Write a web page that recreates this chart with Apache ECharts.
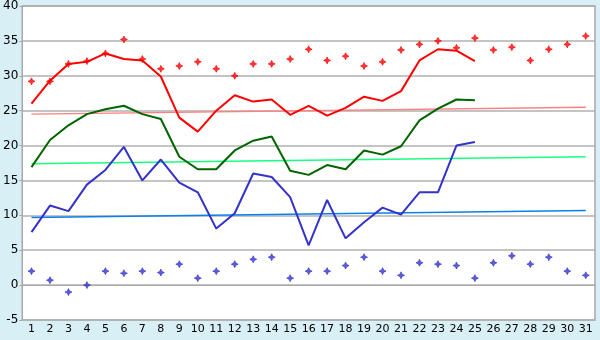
<!DOCTYPE html>
<html>
<head>
<meta charset="utf-8">
<script src="https://cdn.jsdelivr.net/npm/echarts@6/dist/echarts.min.js"></script>
<style>
  html, body { margin: 0; padding: 0; background: #d9eff6; }
  #chart { width: 600px; height: 340px; }
</style>
</head>
<body>
<div id="chart"></div>
<script>
var days = [];
for (var d = 1; d <= 31; d++) days.push(String(d));

// 红线（1-25日）
var redLine = [26, 29.3, 31.7, 32, 33.2, 32.4, 32.2, 29.9, 24, 22,
  25, 27.2, 26.3, 26.6, 24.4, 25.7, 24.3, 25.4, 27, 26.4,
  27.8, 32.2, 33.8, 33.6, 32.1];
var redDots = [29.2, 29.2, 31.7, 32.1, 33.2, 35.2, 32.4, 31, 31.4, 32,
  31, 30, 31.7, 31.7, 32.4, 33.8, 32.2, 32.8, 31.4, 32,
  33.7, 34.5, 35, 34, 35.4, 33.7, 34.1, 32.2, 33.8, 34.5, 35.7];
var greenLine = [16.9, 20.8, 22.9, 24.5, 25.2, 25.7, 24.5, 23.8, 18.4, 16.6,
  16.6, 19.3, 20.7, 21.3, 16.4, 15.8, 17.2, 16.6, 19.3, 18.7,
  19.9, 23.6, 25.3, 26.6, 26.5];
var blueLine = [7.6, 11.4, 10.6, 14.4, 16.5, 19.8, 15, 18, 14.7, 13.3,
  8.1, 10.3, 16, 15.5, 12.6, 5.7, 12.2, 6.7, 9, 11.1,
  10.1, 13.3, 13.3, 20, 20.5];
var blueDots = [2, 0.7, -1, 0, 2, 1.7, 2, 1.8, 3, 1,
  2, 3, 3.7, 4, 1, 2, 2, 2.8, 4, 2,
  1.4, 3.2, 3, 2.8, 1, 3.2, 4.2, 3, 4, 2, 1.4];
// 趋势线（首尾两点）
var redTrend = [24.5, 25.5];
var greenTrend = [17.4, 18.4];
var blueTrend = [9.7, 10.7];

var star = 'path://M5 0 L6.6 3.4 L10 5 L6.6 6.6 L5 10 L3.4 6.6 L0 5 L3.4 3.4 Z';

function trend(arr) {
  return [[days[0], arr[0]], [days[30], arr[1]]];
}

var myChart = echarts.init(document.getElementById('chart'));

var option = {
  backgroundColor: '#d9eff6',
  animation: false,
  grid: {
    left: 21, right: 5, top: 5, bottom: 20,
    show: true, backgroundColor: '#ffffff', borderColor: '#a8a8a8', borderWidth: 1.5
  },
  xAxis: {
    type: 'category',
    data: days,
    boundaryGap: true,
    axisLine: { lineStyle: { color: '#a8a8a8' } },
    axisTick: { alignWithLabel: true, length: 4, lineStyle: { color: '#000' } },
    axisLabel: { color: '#000', fontFamily: 'DejaVu Sans', fontSize: 11, margin: 4, interval: 0 },
    splitLine: { show: false }
  },
  yAxis: {
    type: 'value',
    min: -5, max: 40, interval: 5,
    axisLine: { show: true, lineStyle: { color: '#a8a8a8' } },
    axisTick: { show: true, length: 3, lineStyle: { color: '#a8a8a8' } },
    axisLabel: { color: '#000', fontFamily: 'DejaVu Sans', fontSize: 12, margin: 4 },
    splitLine: { lineStyle: { color: '#b0b0b0', width: 1.5 } }
  },
  series: [
    { type: 'line', data: trend(redTrend), symbol: 'none', lineStyle: { color: '#ff8080', width: 1.4 } },
    { type: 'line', data: trend(greenTrend), symbol: 'none', lineStyle: { color: '#19ff80', width: 1.4 } },
    { type: 'line', data: trend(blueTrend), symbol: 'none', lineStyle: { color: '#0a80f0', width: 1.4 } },
    { type: 'line', data: redLine, symbol: 'none', lineStyle: { color: '#ff0000', width: 2 } },
    { type: 'line', data: greenLine, symbol: 'none', lineStyle: { color: '#006400', width: 2 } },
    { type: 'line', data: blueLine, symbol: 'none', lineStyle: { color: '#3333cc', width: 2 } },
    { type: 'scatter', data: redDots, symbol: star, symbolSize: 7, itemStyle: { color: '#ff0000', borderColor: '#ff0000', borderWidth: 0.8 } },
    { type: 'scatter', data: blueDots, symbol: star, symbolSize: 7, itemStyle: { color: '#3333cc', borderColor: '#3333cc', borderWidth: 0.8 } }
  ]
};

myChart.setOption(option);
</script>
</body>
</html>
